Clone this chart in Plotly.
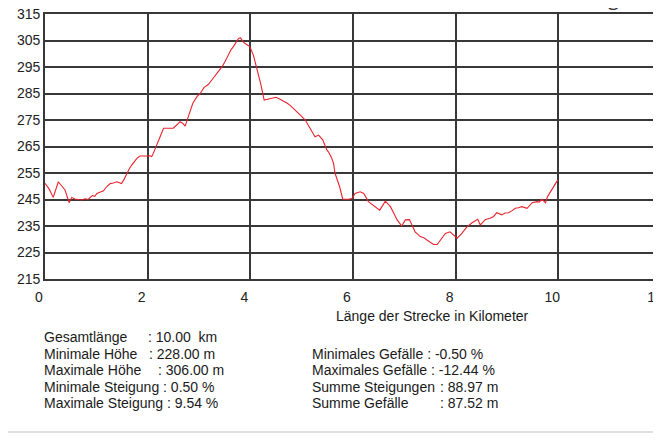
import plotly.graph_objects as go

# --- data ---
distance_km = [0.00, 0.08, 0.16, 0.26, 0.33, 0.39, 0.47, 0.52, 0.58, 0.63, 0.71, 0.78, 0.84, 0.92, 0.97,
               1.01, 1.08, 1.14, 1.20, 1.27, 1.33, 1.40, 1.45, 1.49, 1.54, 1.59, 1.64, 1.69, 1.74, 1.79,
               1.85, 1.92, 1.98, 2.04, 2.08, 2.11, 2.18, 2.23, 2.28, 2.31, 2.37, 2.44, 2.50, 2.57, 2.63,
               2.68, 2.73, 2.79, 2.84, 2.88, 2.96, 3.02, 3.10, 3.18, 3.25, 3.32, 3.38, 3.46, 3.54, 3.62,
               3.67, 3.72, 3.77, 3.81, 3.86, 3.92, 3.99, 4.06, 4.14, 4.20, 4.27, 4.35, 4.45, 4.50, 4.58,
               4.65, 4.72, 4.78, 4.84, 4.90, 4.97, 5.07, 5.12, 5.17, 5.26, 5.33, 5.41, 5.49, 5.52, 5.58,
               5.62, 5.65, 5.70, 5.74, 5.80, 5.91, 5.98, 6.04, 6.14, 6.21, 6.30, 6.41, 6.52, 6.63, 6.73,
               6.80, 6.86, 6.95, 7.02, 7.10, 7.21, 7.31, 7.38, 7.44, 7.50, 7.57, 7.64, 7.70, 7.75, 7.80,
               7.89, 7.96, 8.03, 8.12, 8.22, 8.32, 8.43, 8.48, 8.58, 8.67, 8.74, 8.80, 8.90, 8.96, 9.03,
               9.10, 9.16, 9.22, 9.29, 9.39, 9.49, 9.58, 9.63, 9.68, 9.75, 9.79, 9.88, 9.99]
elevation_m = [251.1, 249.0, 245.8, 251.7, 250.0, 248.6, 243.8, 245.8, 245.2, 245.0, 244.8, 245.3, 245.0, 246.5, 246.2,
               247.3, 247.8, 248.3, 249.8, 251.0, 251.2, 251.7, 251.3, 251.0, 252.6, 254.9, 256.5, 258.0, 259.2, 260.5,
               261.4, 261.3, 261.4, 261.5, 261.2, 262.4, 265.6, 267.5, 270.5, 271.9, 271.9, 271.7, 271.9, 273.2, 274.4,
               273.8, 272.7, 276.2, 279.5, 281.3, 283.8, 284.9, 287.3, 288.4, 290.1, 291.8, 293.2, 295.4, 298.3, 301.4,
               302.7, 304.5, 305.8, 306.0, 304.5, 303.6, 302.7, 299.5, 293.9, 288.8, 282.5, 282.9, 283.2, 283.6, 282.8,
               282.2, 281.3, 280.4, 279.4, 278.1, 276.9, 275.0, 273.4, 271.9, 268.7, 269.3, 267.5, 263.7, 263.0, 260.9,
               258.7, 254.9, 252.3, 249.8, 245.1, 245.1, 245.4, 247.3, 247.9, 247.3, 244.2, 242.5, 241.0, 244.4, 242.3,
               239.6, 237.3, 235.0, 237.3, 237.4, 232.8, 231.0, 230.6, 229.7, 228.8, 228.0, 228.0, 229.7, 231.2, 232.2,
               232.8, 231.6, 230.4, 232.2, 234.7, 236.2, 237.5, 235.4, 237.5, 237.9, 238.6, 240.0, 239.2, 239.9, 240.0,
               240.8, 241.7, 241.9, 242.3, 241.7, 243.8, 244.2, 244.0, 245.1, 243.8, 246.1, 248.8, 252.4]

x_ticks = [0, 2, 4, 6, 8, 10, 12]
y_ticks = [215, 225, 235, 245, 255, 265, 275, 285, 295, 305, 315]
x_title = "Länge der Strecke in Kilometer"

stats_left_labels = ["Gesamtlänge", "Minimale Höhe", "Maximale Höhe", "Minimale Steigung : 0.50 %", "Maximale Steigung : 9.54 %"]
stats_left_values = [": 10.00  km", ": 228.00 m", ": 306.00 m", "", ""]
stats_right_labels = ["Minimales Gefälle : -0.50 %", "Maximales Gefälle : -12.44 %", "Summe Steigungen", "Summe Gefälle"]
stats_right_values = ["", "", ": 88.97 m", ": 87.52 m"]

# --- layout geometry ---
# The page body has an 8px margin, so the figure starts at page (8, 8).
OFF = 8
W, H = 661 - OFF, 445 - OFF
PAGE_L, PAGE_T, PAGE_B = 45, 14, 279
L, R, T = PAGE_L - OFF, 0, PAGE_T - OFF
B = H - (PAGE_B - OFF)
PW, PH = W - L - R, H - T - B


def px_x(page_px):
    return (page_px - PAGE_L) / PW


def px_y(page_py):
    return (PAGE_B - page_py) / PH


fig = go.Figure()
fig.add_trace(go.Scatter(x=distance_km, y=elevation_m, mode="lines",
                         line=dict(color="#e8232d", width=1.1), hoverinfo="skip"))

grid_col = "#383838"
tick_font = dict(family="Liberation Sans, Arial", size=14, color="#222")
fig.update_xaxes(range=[0, 12], tickvals=x_ticks, showgrid=True, gridcolor=grid_col, gridwidth=1.6,
                 showline=True, linecolor=grid_col, linewidth=1.6, mirror=True, zeroline=False,
                 ticks="", ticklabelshift=-6, ticklabelstandoff=4, tickfont=tick_font,
                 automargin=False, ticklabeloverflow="allow")
fig.update_yaxes(range=[215, 315], tickvals=y_ticks, showgrid=True, gridcolor=grid_col, gridwidth=1.6,
                 showline=True, linecolor=grid_col, linewidth=1.6, mirror=True, zeroline=False,
                 ticks="", tickfont=tick_font, automargin=False, ticklabeloverflow="allow")

font_txt = dict(family="Liberation Sans, Arial", size=14, color="#1a1a1a")
ann = []
ann.append(dict(x=px_x(432), y=px_y(316), xref="paper", yref="paper", text=x_title,
                showarrow=False, xanchor="center", yanchor="middle", font=font_txt))

left_rows = [337, 353.5, 370, 386.5, 403]
left_value_x = [148, 149, 158, 0, 0]
for lab, val, ry, vx in zip(stats_left_labels, stats_left_values, left_rows, left_value_x):
    ann.append(dict(x=px_x(42), y=px_y(ry), xref="paper", yref="paper", text=lab, showarrow=False,
                    xanchor="left", yanchor="middle", font=font_txt))
    if val:
        ann.append(dict(x=px_x(vx - 2), y=px_y(ry), xref="paper", yref="paper", text=val, showarrow=False,
                        xanchor="left", yanchor="middle", font=font_txt))

right_rows = [353.5, 370, 386.5, 403]
right_value_x = [0, 0, 440, 440]
for lab, val, ry, vx in zip(stats_right_labels, stats_right_values, right_rows, right_value_x):
    ann.append(dict(x=px_x(310), y=px_y(ry), xref="paper", yref="paper", text=lab, showarrow=False,
                    xanchor="left", yanchor="middle", font=font_txt))
    if val:
        ann.append(dict(x=px_x(vx - 2), y=px_y(ry), xref="paper", yref="paper", text=val, showarrow=False,
                        xanchor="left", yanchor="middle", font=font_txt))

# fragments of a header text cut off at the top edge
frag_font = dict(family="Open Sans", size=20, color="#333")
ann.append(dict(x=px_x(578), y=px_y(13), xref="paper", yref="paper", text=",", showarrow=False,
                xanchor="left", yanchor="bottom", font=frag_font))
ann.append(dict(x=px_x(606), y=px_y(13), xref="paper", yref="paper", text="g", showarrow=False,
                xanchor="left", yanchor="bottom", font=frag_font))

shapes = [
    dict(type="line", xref="paper", yref="paper", x0=px_x(8), x1=px_x(661), y0=px_y(432), y1=px_y(432),
         line=dict(color="#d6d6d6", width=1.5), layer="above"),
]

fig.update_layout(width=W, height=H, margin=dict(l=L, r=R, t=T, b=B, pad=0),
                  paper_bgcolor="white", plot_bgcolor="white", showlegend=False,
                  annotations=ann, shapes=shapes)

fig.write_html("out.html")
